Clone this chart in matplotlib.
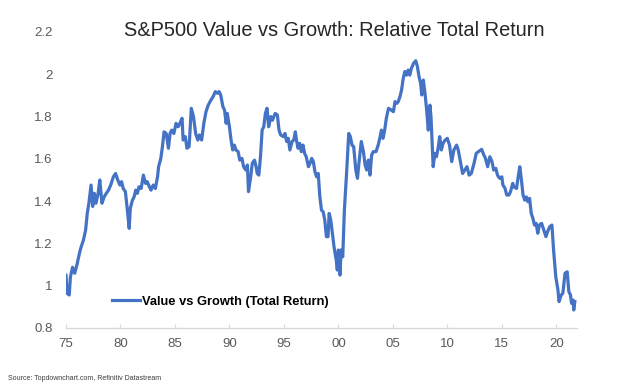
import matplotlib
matplotlib.use("Agg")
import matplotlib.pyplot as plt

plt.rcParams['font.family'] = ['Liberation Sans', 'DejaVu Sans']

# relative total return, value vs growth
years = [1975.0, 1975.1, 1975.3, 1975.4, 1975.6, 1975.8, 1976.0, 1976.2, 1976.35, 1976.6,
         1976.8, 1976.95, 1977.1, 1977.3, 1977.45, 1977.6, 1977.75, 1977.95, 1978.1, 1978.3,
         1978.5, 1978.7, 1978.9, 1979.1, 1979.35, 1979.55, 1979.75, 1979.95, 1980.1, 1980.25,
         1980.45, 1980.6, 1980.8, 1980.9, 1981.1, 1981.25, 1981.4, 1981.55, 1981.7, 1981.9,
         1982.1, 1982.3, 1982.45, 1982.65, 1982.8, 1983.0, 1983.2, 1983.4, 1983.5, 1983.7,
         1983.85, 1984.0, 1984.2, 1984.4, 1984.55, 1984.7, 1984.9, 1985.1, 1985.3, 1985.45,
         1985.65, 1985.75, 1985.95, 1986.1, 1986.3, 1986.5, 1986.7, 1986.9, 1987.1, 1987.25,
         1987.45, 1987.65, 1987.85, 1988.05, 1988.3, 1988.5, 1988.7, 1988.9, 1989.05, 1989.2,
         1989.4, 1989.55, 1989.7, 1989.8, 1990.0, 1990.15, 1990.3, 1990.45, 1990.6, 1990.8,
         1990.95, 1991.15, 1991.3, 1991.5, 1991.65, 1991.75, 1991.95, 1992.1, 1992.3, 1992.45,
         1992.55, 1992.7, 1992.85, 1993.0, 1993.15, 1993.3, 1993.45, 1993.6, 1993.8, 1993.95,
         1994.2, 1994.4, 1994.55, 1994.7, 1994.95, 1995.1, 1995.25, 1995.4, 1995.55, 1995.75,
         1995.9, 1996.05, 1996.15, 1996.3, 1996.45, 1996.6, 1996.75, 1996.9, 1997.05, 1997.25,
         1997.4, 1997.55, 1997.7, 1997.85, 1998.0, 1998.15, 1998.3, 1998.45, 1998.6, 1998.75,
         1998.9, 1999.05, 1999.15, 1999.3, 1999.45, 1999.6, 1999.8, 1999.9, 2000.0, 2000.15,
         2000.25, 2000.4, 2000.55, 2000.75, 2000.95, 2001.1, 2001.25, 2001.4, 2001.6, 2001.75,
         2001.9, 2002.1, 2002.3, 2002.45, 2002.6, 2002.75, 2002.9, 2003.05, 2003.2, 2003.45,
         2003.65, 2003.8, 2003.95, 2004.1, 2004.25, 2004.4, 2004.6, 2004.85, 2005.05, 2005.2,
         2005.35, 2005.5, 2005.65, 2005.8, 2005.95, 2006.1, 2006.25, 2006.4, 2006.55, 2006.7,
         2006.9, 2007.1, 2007.25, 2007.4, 2007.55, 2007.65, 2007.8, 2007.95, 2008.1, 2008.25,
         2008.4, 2008.5, 2008.7, 2008.85, 2009.0, 2009.15, 2009.3, 2009.45, 2009.6, 2009.8,
         2010.0, 2010.2, 2010.4, 2010.6, 2010.85, 2011.0, 2011.2, 2011.4, 2011.6, 2011.8,
         2012.0, 2012.2, 2012.45, 2012.65, 2012.85, 2013.15, 2013.35, 2013.5, 2013.7, 2013.9,
         2014.1, 2014.25, 2014.45, 2014.6, 2014.8, 2015.0, 2015.1, 2015.3, 2015.45, 2015.65,
         2015.8, 2016.0, 2016.1, 2016.35, 2016.5, 2016.65, 2016.8, 2016.95, 2017.1, 2017.25,
         2017.4, 2017.55, 2017.7, 2017.85, 2018.0, 2018.15, 2018.3, 2018.45, 2018.65, 2018.85,
         2019.05, 2019.2, 2019.4, 2019.6, 2019.75, 2019.95, 2020.15, 2020.25, 2020.45, 2020.6,
         2020.8, 2021.0, 2021.15, 2021.3, 2021.4, 2021.55, 2021.6, 2021.7]
ratio = [1.05, 0.964, 0.956, 1.04, 1.087, 1.059, 1.098, 1.145, 1.177, 1.216,
         1.263, 1.342, 1.39, 1.476, 1.375, 1.437, 1.39, 1.437, 1.5, 1.39,
         1.42, 1.437, 1.452, 1.476, 1.515, 1.531, 1.5, 1.476, 1.492, 1.46,
         1.445, 1.374, 1.271, 1.366, 1.405, 1.42, 1.452, 1.437, 1.468, 1.46,
         1.523, 1.484, 1.492, 1.468, 1.452, 1.476, 1.46, 1.515, 1.563, 1.602,
         1.658, 1.728, 1.72, 1.65, 1.72, 1.736, 1.72, 1.768, 1.752, 1.768,
         1.792, 1.689, 1.705, 1.65, 1.658, 1.839, 1.8, 1.72, 1.689, 1.713,
         1.689, 1.768, 1.823, 1.854, 1.878, 1.894, 1.918, 1.91, 1.918, 1.902,
         1.847, 1.831, 1.768, 1.815, 1.752, 1.689, 1.642, 1.665, 1.642, 1.634,
         1.594, 1.602, 1.563, 1.547, 1.571, 1.445, 1.515, 1.579, 1.594, 1.563,
         1.531, 1.523, 1.61, 1.736, 1.752, 1.815, 1.839, 1.752, 1.8, 1.783,
         1.815, 1.807, 1.736, 1.713, 1.705, 1.72, 1.682, 1.697, 1.642, 1.682,
         1.689, 1.728, 1.689, 1.65, 1.673, 1.634, 1.665, 1.626, 1.61, 1.563,
         1.579, 1.602, 1.587, 1.539, 1.515, 1.531, 1.42, 1.357, 1.35, 1.311,
         1.232, 1.232, 1.342, 1.311, 1.248, 1.184, 1.122, 1.074, 1.169, 1.05,
         1.169, 1.137, 1.358, 1.531, 1.72, 1.705, 1.665, 1.658, 1.547, 1.508,
         1.587, 1.682, 1.634, 1.571, 1.547, 1.594, 1.523, 1.618, 1.634, 1.634,
         1.665, 1.697, 1.736, 1.697, 1.736, 1.792, 1.839, 1.831, 1.823, 1.871,
         1.862, 1.871, 1.894, 1.926, 1.98, 2.013, 1.996, 2.02, 1.996, 2.028,
         2.052, 2.064, 2.037, 1.989, 1.957, 1.902, 1.973, 1.91, 1.831, 1.736,
         1.854, 1.799, 1.563, 1.626, 1.61, 1.65, 1.705, 1.642, 1.673, 1.689,
         1.697, 1.665, 1.587, 1.642, 1.665, 1.642, 1.587, 1.531, 1.547, 1.563,
         1.523, 1.531, 1.579, 1.626, 1.634, 1.645, 1.618, 1.602, 1.563, 1.61,
         1.587, 1.547, 1.555, 1.523, 1.508, 1.515, 1.476, 1.46, 1.429, 1.429,
         1.445, 1.484, 1.468, 1.46, 1.515, 1.563, 1.5, 1.429, 1.405, 1.42,
         1.397, 1.413, 1.342, 1.319, 1.287, 1.295, 1.248, 1.287, 1.295, 1.264,
         1.232, 1.256, 1.279, 1.287, 1.169, 1.043, 0.98, 0.925, 0.956, 0.964,
         1.059, 1.066, 0.972, 0.956, 0.917, 0.932, 0.885, 0.925]

xticks = [1975, 1980, 1985, 1990, 1995, 2000, 2005, 2010, 2015, 2020]
xlabels = ['75', '80', '85', '90', '95', '00', '05', '10', '15', '20']
yticks = [0.8, 1.0, 1.2, 1.4, 1.6, 1.8, 2.0, 2.2]
ylabels = ['0.8', '1', '1.2', '1.4', '1.6', '1.8', '2', '2.2']

W, H = 624, 385
fig = plt.figure(figsize=(W/100, H/100), dpi=100)
ax = fig.add_axes([66/W, (H-328)/H, (577-66)/W, (328-32)/H])

ax.plot(years, ratio, color='#4472C4', lw=2.3, solid_joinstyle='round',
        label='Value vs Growth (Total Return)')

ax.set_xlim(1975, 2021.9)
ax.set_ylim(0.8, 2.2)
ax.set_xticks(xticks)
ax.set_xticklabels(xlabels)
ax.set_yticks(yticks)
ax.set_yticklabels(ylabels)

for s in ['left', 'right', 'top']:
    ax.spines[s].set_visible(False)
ax.spines['bottom'].set_color('#d9d9d9')
ax.spines['bottom'].set_linewidth(1)

ax.tick_params(axis='x', direction='in', length=3, color='#d9d9d9',
               labelsize=9.5, labelcolor='#595959', pad=7)
ax.tick_params(axis='y', length=0, labelsize=9.5, labelcolor='#595959', pad=9.5)

leg = ax.legend(loc='center left', bbox_to_anchor=(0.09, 0.088), frameon=False,
                borderpad=0, borderaxespad=0, handlelength=2.2, handletextpad=0.1,
                prop={'weight': 'bold', 'size': 9.3})

fig.text(334/W, 1-30/H, 'S&P500 Value vs Growth: Relative Total Return',
         ha='center', va='center', fontsize=14.4, color='#262626')
fig.text(8/W, 1-378/H, 'Source: Topdownchart.com, Refinitiv Datastream',
         ha='left', va='center', fontsize=5, color='#3b3b3b')

fig.savefig('out.png', dpi=100)
